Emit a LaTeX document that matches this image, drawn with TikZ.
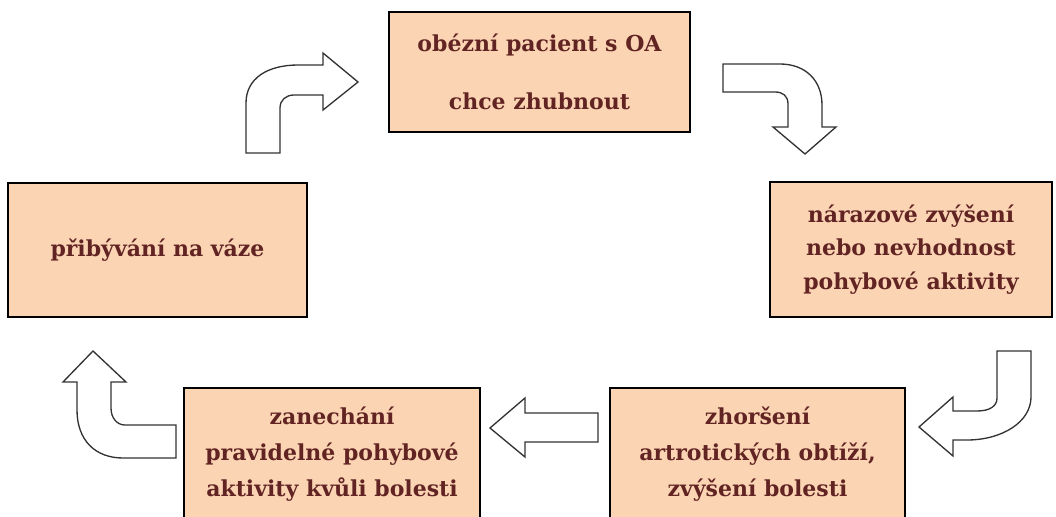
\documentclass[tikz,border=0pt]{standalone}
\usepackage{fontspec}
\setmainfont{DejaVu Serif}
\definecolor{peach}{HTML}{FBD4B4}
\definecolor{brownred}{HTML}{622423}
\definecolor{arrowgray}{HTML}{333333}
\tikzset{
  box/.style={draw=black, line width=2pt, fill=peach, inner sep=0pt,
    text=brownred, align=center, font=\bfseries\fontsize{16.5}{27}\selectfont},
  blockarrow/.style={draw=arrowgray, line width=1pt, fill=white, line join=miter}
}
\begin{document}
\begin{tikzpicture}[x=0.75pt,y=-0.75pt]
\useasboundingbox (0,0) rectangle (1056,517);
\clip (0,0) rectangle (1056,517);
% boxes
\node[box, minimum width=225.75pt, minimum height=90pt,
  font=\bfseries\fontsize{16.5}{43.5}\selectfont] (obezni) at (539.5,72)
  {obézní pacient s OA\\chce zhubnout};
\node[box, minimum width=211.5pt, minimum height=101.25pt,
  font=\bfseries\fontsize{16.5}{25}\selectfont] (narazove) at (911,249.5)
  {nárazové zvýšení\\nebo nevhodnost\\pohybové aktivity};
\node[box, minimum width=221.25pt, minimum height=99pt] (zhorseni) at (757.5,454)
  {zhoršení\\artrotických obtíží,\\zvýšení bolesti};
\node[box, minimum width=222pt, minimum height=99pt] (zanechani) at (332,454)
  {zanechání\\pravidelné pohybové\\aktivity kvůli bolesti};
\node[box, minimum width=224.25pt, minimum height=100.5pt] (pribyvani) at (157.5,250)
  {přibývání na váze};
% block arrows
\draw[blockarrow] (246,153) -- (246,103) .. controls (246,78) and (268,65) .. (298,65)
  -- (323,65) -- (323,53) -- (358,82) -- (323,110) -- (323,95) -- (294,95)
  .. controls (286,95) and (280,100) .. (280,108) -- (280,153) -- cycle;
\draw[blockarrow] (723,64) -- (780,64) .. controls (805,64) and (822,80) .. (822,105)
  -- (822,127) -- (836,127) -- (805,154) -- (773,127) -- (788,127) -- (788,104)
  .. controls (788,96) and (783,92) .. (775,92) -- (723,92) -- cycle;
\draw[blockarrow] (997,351) -- (1031,351) -- (1031,397) .. controls (1031,422) and (1002,440) .. (967,440)
  -- (953,440) -- (953,456) -- (919,427) -- (953,397) -- (953,411) -- (977,411)
  .. controls (990,411) and (997,406) .. (997,398) -- cycle;
\draw[blockarrow] (598,413) -- (598,442) -- (525,442) -- (525,457) -- (490,428)
  -- (525,398) -- (525,413) -- cycle;
\draw[blockarrow] (176,425) -- (176,458) -- (123,458) .. controls (95,458) and (77,440) .. (77,410)
  -- (77,382) -- (63,382) -- (93,351) -- (126,382) -- (111,382) -- (111,408)
  .. controls (111,418) and (117,425) .. (125,425) -- cycle;
\end{tikzpicture}
\end{document}
